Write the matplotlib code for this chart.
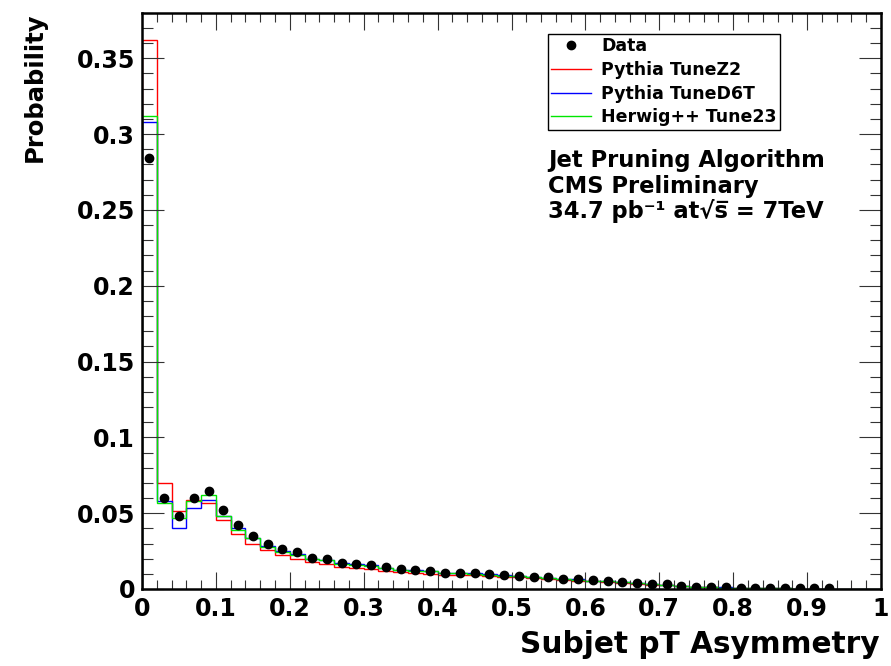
import numpy as np
import matplotlib
matplotlib.use("Agg")
import matplotlib.pyplot as plt
from matplotlib.lines import Line2D
from matplotlib.ticker import FixedLocator, MultipleLocator

# ---------------- data ----------------
bin_edges = np.round(np.arange(0, 1.0001, 0.02), 4)

data_vals = [0.284, 0.0597, 0.0482, 0.0603, 0.0647, 0.0522, 0.0423, 0.0350, 0.0295, 0.0264,
             0.0242, 0.0205, 0.0196, 0.0174, 0.0168, 0.0157, 0.0143, 0.0130, 0.0125, 0.0121,
             0.0108, 0.0107, 0.0105, 0.0097, 0.0091, 0.0089, 0.0080, 0.0076, 0.0069, 0.0064,
             0.0057, 0.0052, 0.0047, 0.0038, 0.0032, 0.0030, 0.0021, 0.0016, 0.0014, 0.0010,
             0.0009, 0.0008, 0.0006, 0.0005, 0.0005, 0.0004, 0.0004, np.nan, np.nan, np.nan]

pythia_z2 = [0.362, 0.0696, 0.0515, 0.0590, 0.0564, 0.0454, 0.0361, 0.0300, 0.0260, 0.0222,
             0.0196, 0.0178, 0.0163, 0.0147, 0.0141, 0.0131, 0.0120, 0.0114, 0.0108, 0.0101,
             0.0095, 0.0094, 0.0090, 0.0085, 0.0080, 0.0077, 0.0070, 0.0066, 0.0060, 0.0056,
             0.0050, 0.0046, 0.0041, 0.0034, 0.0029, 0.0026, 0.0019, 0.0015, 0.0012, 0.0009,
             0.0007, 0.0006, 0.0005, 0.0004, 0.0003, 0.0003, 0.0002, 0.0001, 0.0001, 0.0]

pythia_d6t = [0.308, 0.0580, 0.0405, 0.0534, 0.0586, 0.0480, 0.0400, 0.0335, 0.0285, 0.0252,
              0.0230, 0.0200, 0.0190, 0.0170, 0.0163, 0.0155, 0.0140, 0.0128, 0.0124, 0.0120,
              0.0108, 0.0106, 0.0103, 0.0096, 0.0090, 0.0088, 0.0079, 0.0075, 0.0068, 0.0063,
              0.0056, 0.0051, 0.0046, 0.0038, 0.0032, 0.0029, 0.0021, 0.0016, 0.0013, 0.0010,
              0.0008, 0.0007, 0.0005, 0.0004, 0.0003, 0.0003, 0.0002, 0.0001, 0.0001, 0.0]

herwig_23 = [0.312, 0.0564, 0.0470, 0.0580, 0.0619, 0.0482, 0.0390, 0.0335, 0.0280, 0.0247,
             0.0225, 0.0198, 0.0188, 0.0168, 0.0160, 0.0152, 0.0138, 0.0126, 0.0121, 0.0117,
             0.0106, 0.0104, 0.0101, 0.0094, 0.0088, 0.0086, 0.0077, 0.0073, 0.0066, 0.0061,
             0.0055, 0.0050, 0.0044, 0.0037, 0.0031, 0.0028, 0.0020, 0.0015, 0.0012, 0.0009,
             0.0007, 0.0006, 0.0005, 0.0004, 0.0003, 0.0002, 0.0002, 0.0001, 0.0001, 0.0]

series_labels = ["Data", "Pythia TuneZ2", "Pythia TuneD6T", "Herwig++ Tune23"]

x_ticks = [0, 0.1, 0.2, 0.3, 0.4, 0.5, 0.6, 0.7, 0.8, 0.9, 1.0]
x_tick_labels = ["0", "0.1", "0.2", "0.3", "0.4", "0.5", "0.6", "0.7", "0.8", "0.9", "1"]
y_ticks = [0, 0.05, 0.1, 0.15, 0.2, 0.25, 0.3, 0.35]
y_tick_labels = ["0", "0.05", "0.1", "0.15", "0.2", "0.25", "0.3", "0.35"]

# ---------------- figure ----------------
plt.rcParams['font.family'] = ['DejaVu Sans']
plt.rcParams['font.weight'] = 'bold'

W, H = 891, 666
fig = plt.figure(figsize=(W / 100, H / 100), dpi=100)
ax_l, ax_r, ax_b, ax_t = 142, 881, 589, 12.7
ax = fig.add_axes([ax_l / W, 1 - ax_b / H, (ax_r - ax_l) / W, (ax_b - ax_t) / H])

ax.stairs(pythia_z2, bin_edges, color='#ff0000', linewidth=1.0, baseline=0)
ax.stairs(pythia_d6t, bin_edges, color='#0000ff', linewidth=1.0, baseline=0)
ax.stairs(herwig_23, bin_edges, color='#00e600', linewidth=1.0, baseline=0)
centers = (bin_edges[:-1] + bin_edges[1:]) / 2
ax.plot(centers, data_vals, 'o', color='black', markersize=6, linestyle='none', zorder=5)

ax.set_xlim(0, 1)
ax.set_ylim(0, 0.38)

ax.xaxis.set_major_locator(FixedLocator(x_ticks))
ax.set_xticklabels(x_tick_labels)
ax.xaxis.set_minor_locator(MultipleLocator(0.02))
ax.yaxis.set_major_locator(FixedLocator(y_ticks))
ax.set_yticklabels(y_tick_labels)
ax.yaxis.set_minor_locator(MultipleLocator(0.01))

ax.tick_params(axis='both', which='both', direction='in', top=True, right=True,
               color='#333333', width=0.8)
ax.tick_params(axis='x', which='major', length=12, labelsize=17, pad=6)
ax.tick_params(axis='x', which='minor', length=6.5)
ax.tick_params(axis='y', which='major', length=16, labelsize=17, pad=5)
ax.tick_params(axis='y', which='minor', length=8)
for lab in ax.get_xticklabels() + ax.get_yticklabels():
    lab.set_fontweight('bold')
for sp in ax.spines.values():
    sp.set_linewidth(1.8)
    sp.set_color('black')

# axis titles
fig.text(35 / W, 1 - 13 / H, "Probability", rotation=90, ha='center', va='top',
         fontsize=17.5, fontweight='bold')
fig.text(880 / W, 1 - 653 / H, "Subjet pT Asymmetry", ha='right', va='baseline',
         fontsize=21.3, fontweight='bold')

# legend
handles = [Line2D([], [], marker='o', color='black', linestyle='none', markersize=6),
           Line2D([], [], color='#ff0000', linewidth=1.0),
           Line2D([], [], color='#0000ff', linewidth=1.0),
           Line2D([], [], color='#00e600', linewidth=1.0)]
axw = ax_r - ax_l
axh = ax_b - ax_t
leg = ax.legend(handles, series_labels, loc='upper left',
                bbox_to_anchor=((548 - ax_l) / axw, (ax_b - 34) / axh),
                borderaxespad=0, fancybox=False, edgecolor='black', framealpha=1,
                prop={'size': 12.5, 'weight': 'bold'}, handlelength=2.3, handletextpad=0.55,
                labelspacing=0.32, borderpad=0.2)
leg.get_frame().set_linewidth(1.0)

# annotation text
tx = (548 - ax_l) / axw
ax.text(tx, (ax_b - 167) / axh, "Jet Pruning Algorithm", transform=ax.transAxes,
        fontsize=16.3, fontweight='bold', va='baseline', ha='left')
ax.text(tx, (ax_b - 193) / axh, "CMS Preliminary", transform=ax.transAxes,
        fontsize=16.3, fontweight='bold', va='baseline', ha='left')
ax.text(tx, (ax_b - 218) / axh, "34.7 pb\u207b\u00b9 at\u221as\u0305 = 7TeV",
        transform=ax.transAxes, fontsize=16.3, fontweight='bold', va='baseline', ha='left')

fig.savefig("out.png", dpi=100)
